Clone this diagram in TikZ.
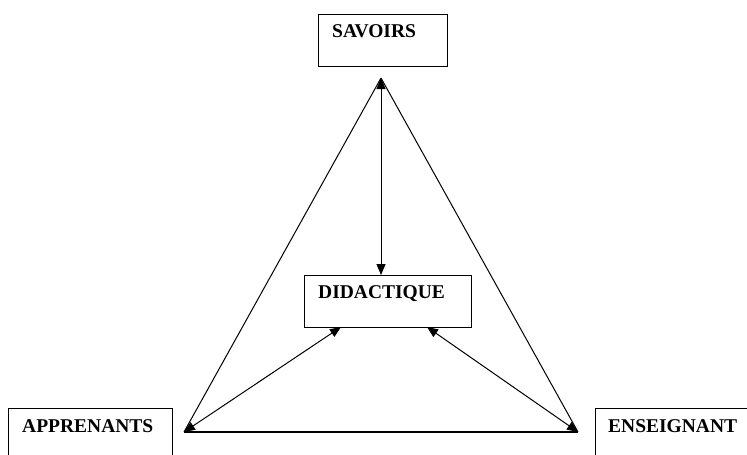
\documentclass[tikz,border=0pt]{standalone}
\usepackage{fontspec}
\setmainfont{Liberation Serif}
\usetikzlibrary{arrows.meta}
\begin{document}
\begin{tikzpicture}[x=1pt,y=-1pt,
  box/.style={draw=black, line width=1.4pt, rectangle, inner sep=0pt, anchor=north west},
  lbl/.style={inner sep=0pt, anchor=base west, font=\fontsize{19.5}{22}\selectfont\bfseries},
  edge/.style={line width=1pt},
  dbl/.style={line width=1pt, {Triangle[length=11pt,width=9pt]}-{Triangle[length=11pt,width=9pt]}}]
\useasboundingbox (0,0) rectangle (747,455);
\fill[white] (0,0) rectangle (747,455);
% boxes
\node[box, minimum width=129pt, minimum height=52pt] (sav) at (318,14) {};
\node[lbl] (savt) at (332,37) {SAVOIRS};
\node[box, minimum width=167pt, minimum height=52pt] (did) at (304,275) {};
\node[lbl] (didt) at (318,298) {DIDACTIQUE};
\node[box, minimum width=164pt, minimum height=60pt] (app) at (8,408) {};
\node[lbl] (appt) at (22,432) {APPRENANTS};
\node[box, minimum width=170pt, minimum height=60pt] (ens) at (595,408) {};
\node[lbl] (enst) at (608,432) {ENSEIGNANT};
% vertices
\coordinate (T) at (381,78);
\coordinate (BL) at (184,432);
\coordinate (BR) at (578,432);
\coordinate (dtop) at (381,275);
\coordinate (dl) at (341,327);
\coordinate (dr) at (427,327);
% triangle
\draw[edge] (T) -- (BL);
\draw[edge] (T) -- (BR);
\draw[edge, line width=1.6pt] (BL) -- (BR);
% arrows
\draw[dbl] (T) -- (dtop);
\draw[dbl] (BL) -- (dl);
\draw[dbl] (BR) -- (dr);
\end{tikzpicture}
\end{document}
